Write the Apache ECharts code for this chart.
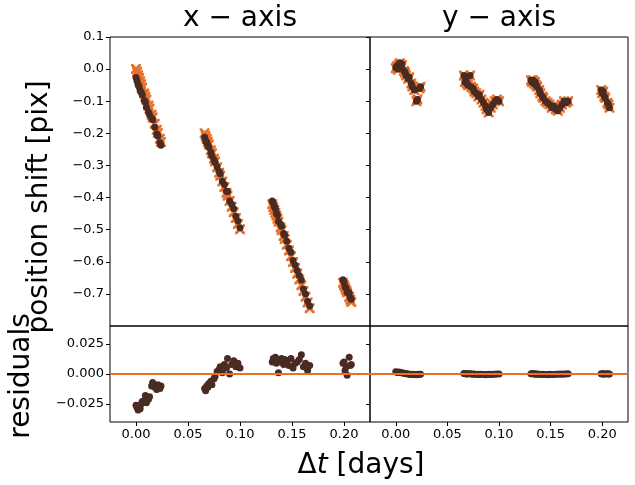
<!DOCTYPE html>
<html><head><meta charset="utf-8">
<script src="https://cdn.jsdelivr.net/npm/echarts@6/dist/echarts.min.js"></script>
<style>html,body{margin:0;padding:0;background:#fff}#c{width:635px;height:485px}</style>
</head><body><div id="c"></div>
<script>
// time stamps [days]
const times = [
 0.000,0.001,0.002,0.003,0.004,0.005,0.006,0.008,0.009,0.010,0.012,0.013,0.015,0.016,0.018,0.020,0.021,0.023,0.024,
 0.066,0.067,0.068,0.069,0.070,0.072,0.073,0.075,0.076,0.078,0.080,0.081,0.083,0.085,0.087,0.088,0.090,0.092,0.094,0.096,0.098,0.100,
 0.131,0.132,0.133,0.134,0.135,0.136,0.137,0.139,0.140,0.142,0.143,0.145,0.147,0.149,0.151,0.153,0.155,0.157,0.159,0.161,0.163,0.165,0.167,
 0.199,0.200,0.201,0.202,0.203,0.205,0.206,0.207];
// x-axis: model (crosses), measured (dots), residuals
const xModel = [
 0.000,-0.009,-0.019,-0.028,-0.038,-0.047,-0.057,-0.076,-0.085,-0.095,-0.113,-0.123,-0.142,-0.151,-0.170,-0.189,-0.199,-0.217,-0.227,
 -0.200,-0.209,-0.218,-0.226,-0.235,-0.253,-0.262,-0.279,-0.288,-0.306,-0.323,-0.332,-0.350,-0.367,-0.385,-0.394,-0.411,-0.429,-0.446,-0.464,-0.482,-0.499,
 -0.421,-0.430,-0.439,-0.448,-0.457,-0.466,-0.475,-0.493,-0.502,-0.520,-0.529,-0.547,-0.565,-0.583,-0.601,-0.619,-0.637,-0.655,-0.673,-0.691,-0.709,-0.727,-0.745,
 -0.665,-0.673,-0.680,-0.688,-0.695,-0.710,-0.718,-0.725];
const xObs = [
 -0.026,-0.037,-0.049,-0.055,-0.067,-0.072,-0.080,-0.098,-0.103,-0.119,-0.134,-0.142,-0.152,-0.158,-0.181,-0.202,-0.208,-0.229,-0.237,
 -0.212,-0.223,-0.228,-0.237,-0.243,-0.259,-0.271,-0.283,-0.290,-0.304,-0.319,-0.326,-0.349,-0.359,-0.380,-0.381,-0.411,-0.421,-0.435,-0.458,-0.473,-0.494,
 -0.411,-0.417,-0.428,-0.434,-0.448,-0.454,-0.474,-0.483,-0.489,-0.512,-0.517,-0.536,-0.558,-0.570,-0.596,-0.610,-0.627,-0.643,-0.657,-0.685,-0.700,-0.724,-0.738,
 -0.656,-0.663,-0.677,-0.682,-0.696,-0.696,-0.711,-0.717];
const xResid = [
 -0.026,-0.028,-0.030,-0.027,-0.029,-0.025,-0.023,-0.022,-0.018,-0.024,-0.021,-0.019,-0.010,-0.007,-0.011,-0.013,-0.009,-0.012,-0.010,
 -0.012,-0.014,-0.010,-0.011,-0.008,-0.006,-0.009,-0.004,-0.002,0.002,0.004,0.006,0.001,0.008,0.005,0.013,0.000,0.008,0.011,0.006,0.009,0.005,
 0.010,0.013,0.011,0.014,0.009,0.012,0.001,0.010,0.013,0.008,0.012,0.011,0.007,0.013,0.005,0.009,0.010,0.012,0.016,0.006,0.009,0.003,0.007,
 0.009,0.010,0.003,0.006,-0.001,0.014,0.007,0.008];
// y-axis: model (crosses), measured (dots), residuals
const yModel = [
 0.003,0.009,-0.002,0.014,0.018,0.007,0.013,-0.006,-0.011,-0.020,-0.030,-0.025,-0.045,-0.054,-0.065,-0.100,-0.094,-0.060,-0.055,
 -0.020,-0.040,-0.035,-0.045,-0.050,-0.020,-0.055,-0.060,-0.070,-0.075,-0.085,-0.080,-0.095,-0.105,-0.115,-0.125,-0.135,-0.120,-0.110,-0.100,-0.095,-0.100,
 -0.035,-0.040,-0.035,-0.045,-0.040,-0.050,-0.055,-0.065,-0.075,-0.085,-0.090,-0.100,-0.105,-0.110,-0.120,-0.115,-0.125,-0.130,-0.120,-0.110,-0.100,-0.105,-0.100,
 -0.065,-0.075,-0.070,-0.085,-0.090,-0.105,-0.110,-0.120];
const yObs = [
 0.005,0.010,0.000,0.015,0.020,0.008,0.015,-0.005,-0.010,-0.020,-0.030,-0.025,-0.045,-0.055,-0.065,-0.100,-0.095,-0.060,-0.055,
 -0.020,-0.040,-0.035,-0.045,-0.050,-0.020,-0.055,-0.060,-0.070,-0.075,-0.085,-0.080,-0.095,-0.105,-0.115,-0.125,-0.135,-0.120,-0.110,-0.100,-0.095,-0.100,
 -0.035,-0.040,-0.035,-0.045,-0.040,-0.050,-0.055,-0.065,-0.075,-0.085,-0.090,-0.100,-0.105,-0.110,-0.120,-0.115,-0.125,-0.130,-0.120,-0.110,-0.100,-0.105,-0.100,
 -0.065,-0.075,-0.070,-0.085,-0.090,-0.105,-0.110,-0.120];
const yResid = [
 0.0018,0.0015,0.0012,0.0016,0.0013,0.0010,0.0011,0.0007,0.0005,0.0003,0.0001,-0.0002,-0.0004,-0.0003,-0.0005,-0.0006,-0.0004,-0.0002,-0.0003,
 0.0004,0.0003,0.0002,0.0001,0.0003,0.0002,0.0000,-0.0003,0.0001,-0.0004,-0.0002,-0.0005,-0.0003,-0.0004,-0.0006,-0.0005,-0.0003,-0.0004,-0.0002,-0.0003,-0.0001,0.0000,
 0.0003,0.0002,0.0004,0.0001,0.0000,-0.0002,-0.0001,-0.0003,-0.0004,-0.0002,-0.0005,-0.0004,-0.0006,-0.0003,-0.0005,-0.0004,-0.0002,-0.0003,-0.0001,-0.0002,0.0000,0.0001,0.0002,
 0.0002,0.0001,0.0003,0.0000,0.0001,0.0002,0.0000,0.0001];
// axis ticks
const shiftTicks = [-0.7,-0.6,-0.5,-0.4,-0.3,-0.2,-0.1,0.0,0.1];
const residTicks = [-0.025,0.0,0.025];
const timeTicks = [0.00,0.05,0.10,0.15,0.20];
const panelTitles = ['x \u2212 axis','y \u2212 axis'];

const ORANGE = '#e8702a', BROWN = '#4a2b22';
const FONT = 'DejaVu Sans';
const pair = arr => times.map((t,i)=>[t,arr[i]]);
const fmt = d => v => (Math.abs(v)<1e-9?0:v).toFixed(d).replace('-','\u2212');
const CROSS = 'path://M0,0 L2,0 L10,8 L10,10 L8,10 L0,2 Z M8,0 L10,0 L10,2 L2,10 L0,10 L0,8 Z';

const grids = [
 {left:110, top:37, width:260, height:289},
 {left:370, top:37, width:258, height:289},
 {left:110, top:326, width:260, height:96},
 {left:370, top:326, width:258, height:96}
].map(g=>Object.assign(g,{show:true,borderColor:'#000',borderWidth:1,backgroundColor:'transparent'}));

function xAx(i, labels){
  return {type:'value', gridIndex:i, min:-0.025, max:0.225, position:'bottom',
    axisLine:{show:false, onZero:false}, splitLine:{show:false},
    axisTick:{show:labels, length:4, customValues:timeTicks, lineStyle:{color:'#000'}},
    axisLabel:{show:labels, customValues:timeTicks, margin:6, color:'#000', fontSize:13, fontFamily:FONT, formatter:fmt(2)}};
}
function yAx(i, top, labels){
  const tk = top?shiftTicks:residTicks;
  return {type:'value', gridIndex:i, min: top?-0.8:-0.04, max: top?0.1:0.04, position:'left',
    axisLine:{show:false, onZero:false}, splitLine:{show:false},
    axisTick:{show:true, length:4, customValues:tk, lineStyle:{color:'#000'}},
    axisLabel:{show:labels, customValues:tk, margin:6, color:'#000', fontSize:13, fontFamily:FONT, formatter:fmt(top?1:3)}};
}
const model = (i,arr)=>({type:'scatter', xAxisIndex:i, yAxisIndex:i, data:pair(arr), symbol:CROSS, symbolSize:10,
  itemStyle:{color:ORANGE, opacity:1}, z:2, silent:true});
const obs = (i,arr)=>({type:'scatter', xAxisIndex:i, yAxisIndex:i, data:pair(arr), symbol:'circle', symbolSize:7,
  itemStyle:{color:BROWN, opacity:1}, z:3, silent:true});
const zero = (i,arr)=>({type:'line', xAxisIndex:i, yAxisIndex:i, data:pair(arr), showSymbol:false, lineStyle:{width:0,opacity:0}, z:1, silent:true,
  markLine:{silent:true, symbol:'none', label:{show:false}, lineStyle:{color:ORANGE,width:2,type:'solid',opacity:1}, data:[{yAxis:0}]}});

const chart = echarts.init(document.getElementById('c'), null, {renderer:'canvas'});
chart.setOption({
  animation:false,
  textStyle:{fontFamily:FONT},
  grid:grids,
  xAxis:[xAx(0,false),xAx(1,false),xAx(2,true),xAx(3,true)],
  yAxis:[yAx(0,true,true),yAx(1,true,false),yAx(2,false,true),yAx(3,false,false)],
  series:[model(0,xModel),obs(0,xObs),model(1,yModel),obs(1,yObs),
          zero(2,xResid),obs(2,xResid),zero(3,yResid),obs(3,yResid)],
  graphic:[
    {type:'text', x:240, y:19, style:{text:panelTitles[0], font:'28px "DejaVu Sans"', fill:'#000', align:'center', verticalAlign:'middle'}},
    {type:'text', x:499, y:19, style:{text:panelTitles[1], font:'28px "DejaVu Sans"', fill:'#000', align:'center', verticalAlign:'middle'}},
    {type:'text', x:40, y:207, rotation:Math.PI/2, style:{text:'position shift [pix]', font:'28px "DejaVu Sans"', fill:'#000', align:'center', verticalAlign:'middle'}},
    {type:'text', x:22, y:376, rotation:Math.PI/2, style:{text:'residuals', font:'28px "DejaVu Sans"', fill:'#000', align:'center', verticalAlign:'middle'}},
    {type:'text', x:361, y:466, style:{text:'\u0394{it|t} [days]', rich:{it:{font:'italic 28px "DejaVu Sans"', fill:'#000'}}, font:'28px "DejaVu Sans"', fill:'#000', align:'center', verticalAlign:'middle'}}
  ]
});
</script></body></html>
